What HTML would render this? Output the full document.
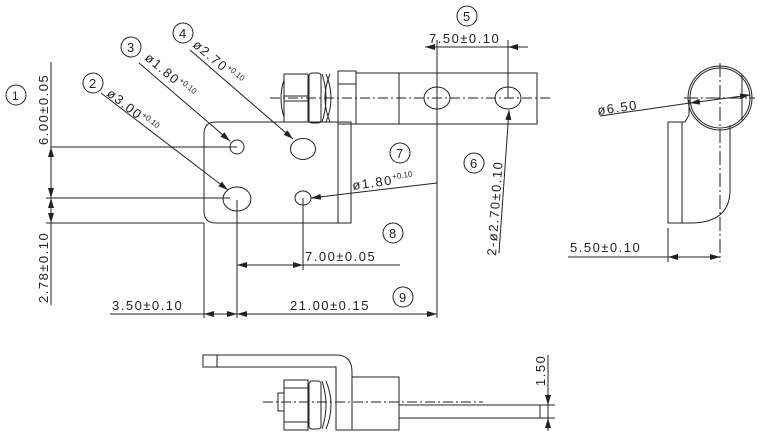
<!DOCTYPE html>
<html><head><meta charset="utf-8"><style>
html,body{margin:0;padding:0;background:#fff;}
svg{display:block}
text{font-family:"Liberation Sans",sans-serif;font-size:13px;fill:#222;letter-spacing:1.5px}
.s{font-size:8px;letter-spacing:0}
</style></head><body>
<svg width="763" height="441" viewBox="0 0 763 441" xmlns="http://www.w3.org/2000/svg">
<defs><marker id="a" viewBox="0 0 10 6" refX="10" refY="3" markerWidth="10" markerHeight="6" orient="auto-start-reverse" markerUnits="userSpaceOnUse"><path d="M0,0 L10,3 L0,6z" fill="#222"/></marker></defs>
<g fill="none" stroke="#222" stroke-width="1">
<!-- plate -->
<path d="M216,122 H351 V223 H216 Q204,223 204,211 V134 Q204,122 216,122Z"/>
<line x1="338" y1="122" x2="338" y2="223"/>
<ellipse cx="237" cy="147" rx="7" ry="7"/>
<ellipse cx="303" cy="149" rx="12.5" ry="10.5"/>
<ellipse cx="237" cy="199" rx="14" ry="12"/>
<ellipse cx="303" cy="198" rx="8" ry="7"/>
<!-- body -->
<rect x="356" y="73" width="181" height="51"/>
<line x1="399" y1="73" x2="399" y2="124"/>
<rect x="338" y="71" width="18" height="53"/>
<line x1="338" y1="84" x2="356" y2="84"/>
<rect x="284" y="74" width="24" height="48"/>
<path d="M284,80 Q278,98 284,117"/>
<line x1="284" y1="96" x2="308" y2="96"/><line x1="284" y1="101" x2="308" y2="101"/>
<rect x="309" y="73" width="12" height="50" rx="3"/>
<path d="M322,74 Q330,98 322,122 M326,74 Q336,98 326,122 M330,74 Q320,98 330,122"/>
<ellipse cx="437" cy="98" rx="13" ry="11"/>
<ellipse cx="508" cy="98" rx="13" ry="11"/>
<line x1="270" y1="98" x2="550" y2="98" stroke-dasharray="10,3,2,3"/>
<!-- right view -->
<circle cx="720" cy="98" r="30"/>
<circle cx="720" cy="98" r="32"/>
<path d="M689,100 V115 L685,122 H668 V223 H690 Q730,223 730,190 V125"/>
<line x1="682" y1="122" x2="682" y2="223"/>
<line x1="720" y1="63" x2="720" y2="262" stroke-dasharray="14,3,2,3"/>
<line x1="684" y1="98" x2="755" y2="98" stroke-dasharray="14,3,2,3"/>
<line x1="742" y1="75" x2="742" y2="120"/>
<line x1="600" y1="116" x2="690" y2="103"/>
<line x1="690" y1="103" x2="750" y2="95" marker-start="url(#a)" marker-end="url(#a)"/>
<line x1="668" y1="228" x2="668" y2="262"/>
<line x1="568" y1="257" x2="668" y2="257"/>
<line x1="668" y1="257" x2="720" y2="257" marker-start="url(#a)" marker-end="url(#a)"/>
<!-- 7.50 -->
<line x1="425" y1="47" x2="437" y2="47" marker-start="url(#a)"/>
<line x1="437" y1="47" x2="528" y2="47"/>
<line x1="508" y1="47" x2="528" y2="47" marker-start="url(#a)"/>
<line x1="437" y1="40" x2="437" y2="318"/>
<line x1="508" y1="40" x2="508" y2="98"/>
<circle cx="467" cy="16" r="10"/>
<!-- left dims -->
<line x1="51" y1="62" x2="51" y2="305"/>
<line x1="51" y1="147" x2="237" y2="147"/>
<line x1="46" y1="198" x2="230" y2="198"/>
<line x1="46" y1="223" x2="204" y2="223"/>
<line x1="51" y1="160" x2="51" y2="147" marker-end="url(#a)"/>
<line x1="51" y1="186" x2="51" y2="198" marker-end="url(#a)"/>
<line x1="51" y1="210" x2="51" y2="198" marker-end="url(#a)"/>
<line x1="51" y1="212" x2="51" y2="223" marker-end="url(#a)"/>
<circle cx="16" cy="95" r="10"/>
<!-- leaders -->
<circle cx="93" cy="83" r="10"/><line x1="101" y1="93" x2="228" y2="190" marker-end="url(#a)"/>
<circle cx="131" cy="47" r="10"/><line x1="139" y1="63" x2="230" y2="141" marker-end="url(#a)"/>
<circle cx="183" cy="33" r="10"/><line x1="190" y1="50" x2="293" y2="139" marker-end="url(#a)"/>
<circle cx="400" cy="153" r="10"/><line x1="437" y1="183" x2="311" y2="198" marker-end="url(#a)"/>
<circle cx="474" cy="163" r="10"/><line x1="499" y1="253" x2="509" y2="110" marker-end="url(#a)"/>
<!-- bottom dims -->
<line x1="204" y1="223" x2="204" y2="318"/>
<line x1="237" y1="200" x2="237" y2="318"/>
<line x1="303" y1="198" x2="303" y2="270"/>
<line x1="237" y1="265" x2="400" y2="265"/>
<line x1="260" y1="265" x2="237" y2="265" marker-end="url(#a)"/>
<line x1="280" y1="265" x2="303" y2="265" marker-end="url(#a)"/>
<circle cx="393" cy="233" r="10"/>
<line x1="110" y1="314" x2="437" y2="314"/>
<line x1="225" y1="314" x2="204" y2="314" marker-end="url(#a)"/>
<line x1="216" y1="314" x2="237" y2="314" marker-end="url(#a)"/>
<line x1="250" y1="314" x2="237" y2="314" marker-end="url(#a)"/>
<line x1="420" y1="314" x2="437" y2="314" marker-end="url(#a)"/>
<circle cx="403" cy="297" r="10"/>
<!-- bottom view -->
<path d="M203,355 H336 Q352,355 352,372 V430 H336 V367 H203Z"/>
<line x1="217" y1="355" x2="217" y2="367"/>
<rect x="352" y="377" width="47" height="53"/>
<path d="M399,405 H540 V418 H399"/>
<rect x="284" y="380" width="24" height="50"/>
<rect x="278" y="393" width="6" height="18"/>
<line x1="284" y1="388" x2="308" y2="388"/><line x1="284" y1="422" x2="308" y2="422"/>
<rect x="309" y="381" width="12" height="48" rx="3"/>
<path d="M322,381 Q330,405 322,429 M326,381 Q336,405 326,429"/>
<line x1="263" y1="402" x2="483" y2="402" stroke-dasharray="10,3,2,3"/>
<line x1="548" y1="355" x2="548" y2="430"/>
<line x1="540" y1="405" x2="555" y2="405"/><line x1="540" y1="418" x2="555" y2="418"/>
<line x1="548" y1="392" x2="548" y2="405" marker-end="url(#a)"/>
<line x1="548" y1="431" x2="548" y2="418" marker-end="url(#a)"/>
</g>
<!-- texts -->
<text x="12" y="100" style="font-size:12px;letter-spacing:0">1</text>
<text x="89" y="88" style="letter-spacing:0">2</text>
<text x="127" y="52" style="letter-spacing:0">3</text>
<text x="179" y="38" style="letter-spacing:0">4</text>
<text x="463" y="21" style="letter-spacing:0">5</text>
<text x="470" y="168" style="letter-spacing:0">6</text>
<text x="396" y="158" style="letter-spacing:0">7</text>
<text x="389" y="238" style="letter-spacing:0">8</text>
<text x="399" y="302" style="letter-spacing:0">9</text>
<text x="429" y="43">7.50±0.10</text>
<text x="570" y="252">5.50±0.10</text>
<text x="598" y="115" transform="rotate(-8 598 115)">ø6.50</text>
<text x="305" y="261">7.00±0.05</text>
<text x="112" y="310">3.50±0.10</text>
<text x="290" y="310">21.00±0.15</text>
<text transform="translate(48,145) rotate(-90)">6.00±0.05</text>
<text transform="translate(48,303) rotate(-90)">2.78±0.10</text>
<text transform="translate(545,386) rotate(-90)">1.50</text>
<text transform="translate(496,256) rotate(-86)">2-ø2.70±0.10</text>
<text transform="translate(106,95) rotate(38)">ø3.00<tspan class="s" dy="-5">+0.10</tspan></text>
<text transform="translate(144,59) rotate(40)">ø1.80<tspan class="s" dy="-5">+0.10</tspan></text>
<text transform="translate(192,46) rotate(40)">ø2.70<tspan class="s" dy="-5">+0.10</tspan></text>
<text transform="translate(353,190) rotate(-8)">ø1.80<tspan class="s" dy="-5">+0.10</tspan></text>
</svg>
</body></html>
